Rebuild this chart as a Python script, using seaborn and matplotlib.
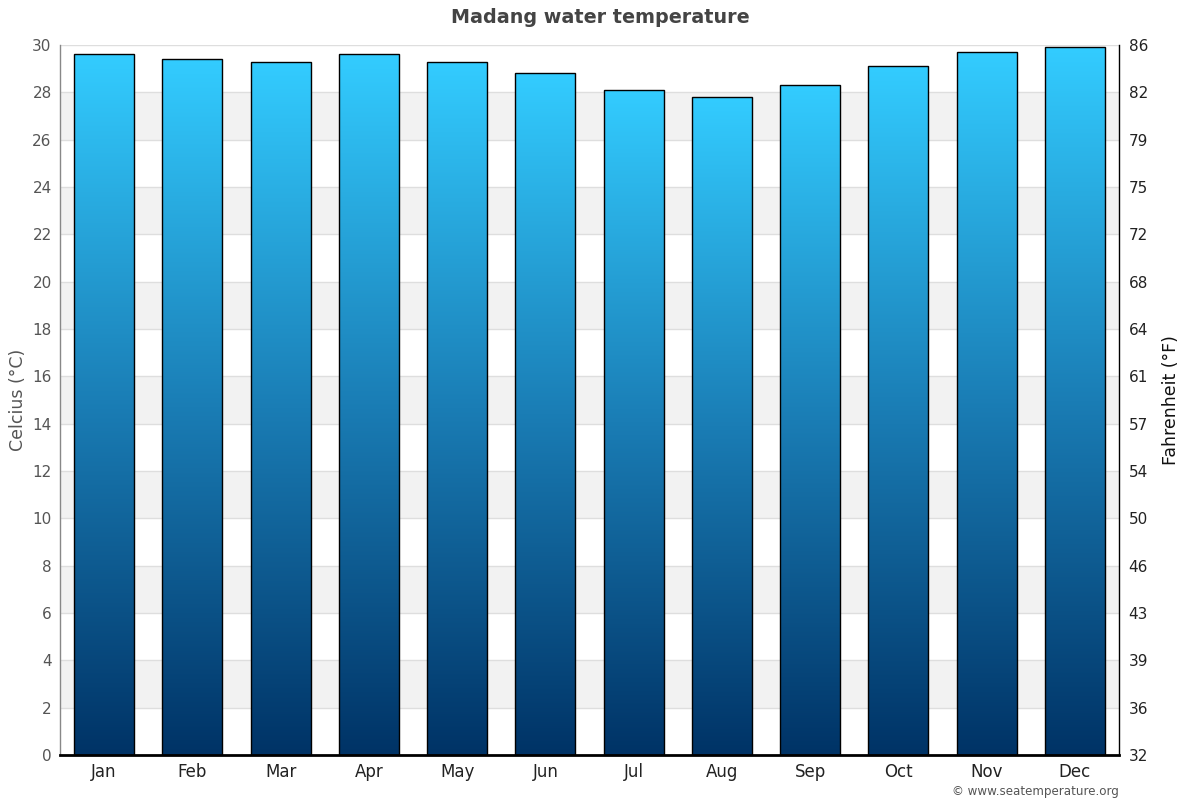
import numpy as np
import pandas as pd
import matplotlib
matplotlib.use("Agg")
import matplotlib.pyplot as plt
from matplotlib.colors import LinearSegmentedColormap
import seaborn as sns

months = ["Jan", "Feb", "Mar", "Apr", "May", "Jun", "Jul", "Aug", "Sep", "Oct", "Nov", "Dec"]
water_temp_c = [29.6, 29.4, 29.3, 29.6, 29.3, 28.8, 28.1, 27.8, 28.3, 29.1, 29.7, 29.9]
celsius_ticks = [0, 2, 4, 6, 8, 10, 12, 14, 16, 18, 20, 22, 24, 26, 28, 30]
fahrenheit_labels = ["32", "36", "39", "43", "46", "50", "54", "57", "61", "64", "68", "72", "75", "79", "82", "86"]

sns.set_theme(style="white")
plt.rcParams["font.family"] = ["DejaVu Sans"]

df = pd.DataFrame({"month": months, "temp": water_temp_c})

fig = plt.figure(figsize=(12, 8), dpi=100)
ax = fig.add_axes([0.05, 0.05625, 0.8825, 0.8875])

sns.barplot(data=df, x="month", y="temp", ax=ax, width=0.68,
            color="#1a8ac4", edgecolor="black", linewidth=1.0, zorder=3)
bars = list(ax.containers[0])

# gradient fill for each bar
cmap = LinearSegmentedColormap.from_list("wt", ["#003366", "#1a7db5", "#33ccff"])
grad = np.linspace(0, 1, 256).reshape(-1, 1)
for p in bars:
    x0, y0 = p.get_x(), p.get_y()
    w, h = p.get_width(), p.get_height()
    p.set_facecolor("none")
    im = ax.imshow(grad, cmap=cmap, origin="lower", aspect="auto",
                   extent=[x0, x0 + w, y0, y0 + h], zorder=2.5, interpolation="bilinear")
    im.set_clip_path(p)

# alternating bands and gridlines
for i, t in enumerate(celsius_ticks[:-1]):
    if i % 2 == 1:
        ax.axhspan(t, t + 2, color="#f2f2f2", zorder=0, lw=0)
for t in celsius_ticks[1:]:
    ax.axhline(t, color="#dedede", lw=1, zorder=1)

ax.set_xlim(-0.5, len(months) - 0.5)
ax.set_ylim(0, 30)

ax.set_yticks(celsius_ticks)
ax.set_yticklabels([str(t) for t in celsius_ticks])
ax.tick_params(axis="y", length=0, labelsize=11, labelcolor="#555555", pad=6)
ax.tick_params(axis="x", length=0, labelsize=12, labelcolor="#222222", pad=6)
ax.set_xlabel("")
ax.set_ylabel("Celcius (°C)", fontsize=12.5, color="#555555", labelpad=4)

ax.spines["top"].set_visible(False)
ax.spines["left"].set_color("#888888")
ax.spines["left"].set_linewidth(1)
ax.spines["bottom"].set_color("black")
ax.spines["bottom"].set_linewidth(2)
ax.spines["bottom"].set_zorder(5)
ax.spines["right"].set_visible(False)

ax2 = ax.twinx()
ax2.set_ylim(0, 30)
ax2.set_yticks(celsius_ticks)
ax2.set_yticklabels(fahrenheit_labels)
ax2.tick_params(axis="y", length=0, labelsize=11, labelcolor="#222222", pad=7)
ax2.set_ylabel("Fahrenheit (°F)", fontsize=12.5, color="#111111", labelpad=10)
for s in ["top", "left", "bottom"]:
    ax2.spines[s].set_visible(False)
ax2.spines["right"].set_color("black")
ax2.spines["right"].set_linewidth(1)

fig.suptitle("Madang water temperature", x=0.5, y=0.99, fontsize=13.8,
             fontweight="bold", color="#444444")
fig.text(0.9325, 0.002, "© www.seatemperature.org", ha="right", va="bottom",
         fontsize=8.6, color="#555555")

fig.savefig("out.png", dpi=100)
